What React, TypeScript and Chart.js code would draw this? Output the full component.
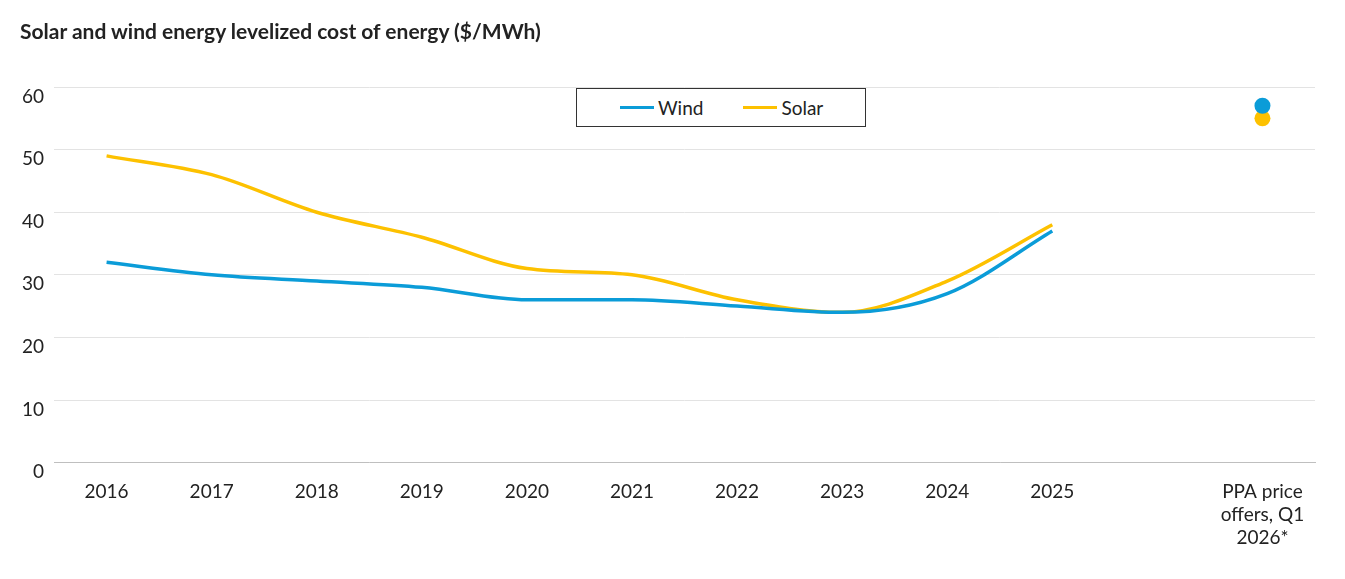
import React, { useEffect, useRef } from "react";
import { Chart, registerables } from "chart.js";
Chart.register(...registerables);

const categories = ["2016","2017","2018","2019","2020","2021","2022","2023","2024","2025","",["PPA price","offers, Q1","2026*"]];
const wind = [32,30,29,28,26,26,25,24,27,37,null,null];
const solar = [49,46,40,36,31,30,26,24,29,38,null,null];
const windPPA = [null,null,null,null,null,null,null,null,null,null,null,57];
const solarPPA = [null,null,null,null,null,null,null,null,null,null,null,55];
const yTicks = [0,10,20,30,40,50,60];

const BLUE = "#0b9cd8";
const YELLOW = "#fdc100";
const FONT = "Lato";

export default function App() {
  const ref = useRef<HTMLCanvasElement>(null);
  useEffect(() => {
    document.body.style.margin = "0";
    const c = new Chart(ref.current!, {
      type: "line",
      data: {
        labels: categories as any,
        datasets: [
          { label: "Wind", data: wind, borderColor: BLUE, borderWidth: 3.5, pointRadius: 0, tension: 0.4, cubicInterpolationMode: "monotone" },
          { label: "Solar", data: solar, borderColor: YELLOW, borderWidth: 3.5, pointRadius: 0, tension: 0.4, cubicInterpolationMode: "monotone" },
          { label: "w", data: windPPA, showLine: false, pointRadius: 8, backgroundColor: BLUE, borderColor: BLUE, pointBorderWidth: 0 },
          { label: "s", data: solarPPA, showLine: false, pointRadius: 8, backgroundColor: YELLOW, borderColor: YELLOW, pointBorderWidth: 0 },
        ] as any,
      },
      options: {
        animation: false,
        responsive: false,
        layout: { padding: { top: 87, left: 12, right: 30, bottom: 12 } },
        plugins: { legend: { display: false }, tooltip: { enabled: false } },
        scales: {
          x: {
            offset: true,
            grid: { display: false, drawTicks: false },
            border: { color: "#bfbfbf", width: 1 },
            ticks: { color: "#222", font: { family: FONT, size: 19 }, maxRotation: 0, autoSkip: false, padding: 18 },
          },
          y: {
            min: 0, max: 60,
            afterBuildTicks: (s: any) => { s.ticks = yTicks.map(v => ({ value: v })); },
            grid: { color: "#e3e3e3", drawTicks: false },
            border: { display: false },
            ticks: { color: "#222", font: { family: FONT, size: 19 }, padding: 10, align: "start" as any },
          },
        },
      },
    });
    return () => c.destroy();
  }, []);
  return (
    <div style={{ position: "relative", width: 1345, height: 579, fontFamily: FONT }}>
      <div style={{ position: "absolute", left: 20, top: 18, fontSize: 21, fontWeight: 700, color: "#222" }}>
        Solar and wind energy levelized cost of energy ($/MWh)
      </div>
      <canvas ref={ref} width={1345} height={579} />
      <div style={{ position: "absolute", left: 576, top: 88, width: 288, height: 37, border: "1px solid #333", background: "#fff", display: "flex", alignItems: "center", fontSize: 19, color: "#222" }}>
        <span style={{ display: "inline-block", width: 34, height: 3.5, background: BLUE, marginLeft: 43, marginRight: 4 }} />Wind
        <span style={{ display: "inline-block", width: 34, height: 3.5, background: YELLOW, marginLeft: 40, marginRight: 4 }} />Solar
      </div>
    </div>
  );
}
